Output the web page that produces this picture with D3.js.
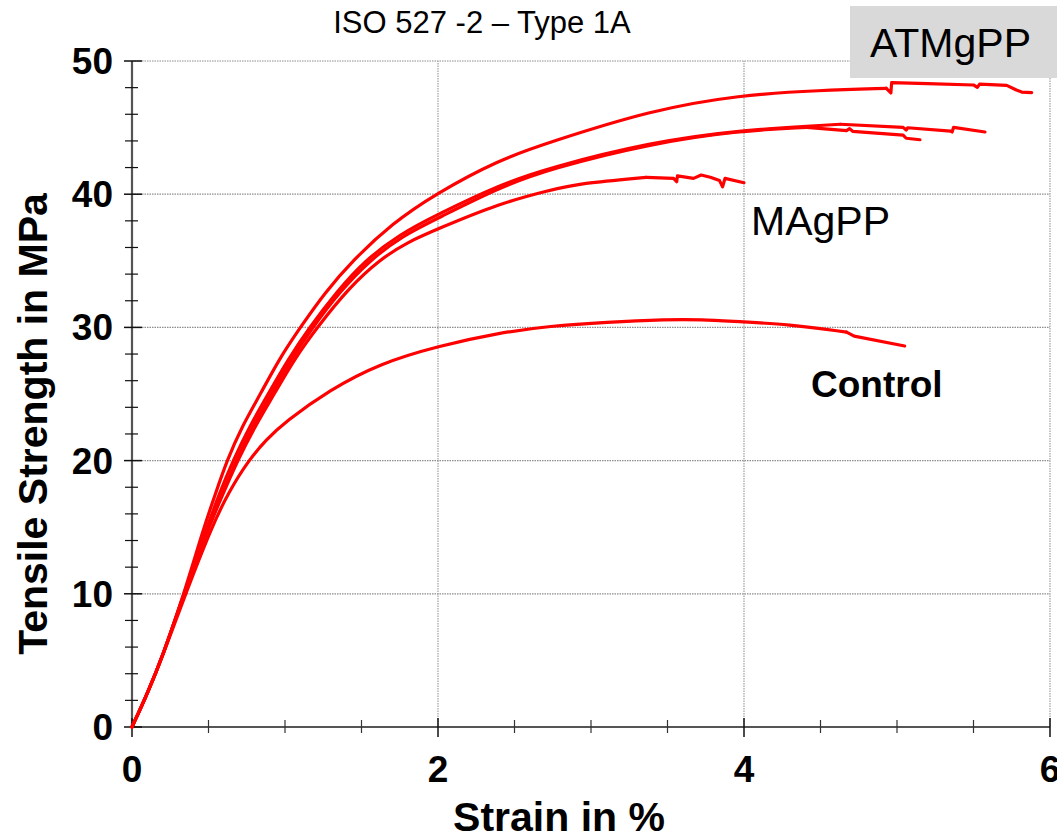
<!DOCTYPE html>
<html>
<head>
<meta charset="utf-8">
<script src="https://cdn.jsdelivr.net/npm/d3@7"></script>
<style>
  html, body { margin: 0; padding: 0; background: #fff; }
  svg { display: block; }
  text { font-family: "Liberation Sans", Arial, sans-serif; }
</style>
</head>
<body>
<svg id="chart" width="1057" height="839"></svg>
<script>
// ---- data (strain in %, stress in MPa) ----
const atmgpp1Strain = [0,0.1,0.2,0.34,0.47,0.545,0.62,0.72,0.84,0.96,1.1,1.26,1.44,1.7,1.98,2.4,2.73,3.39,3.97,4.5,4.93,4.96,4.965,5.2,5.5,5.525,5.54,5.717,5.78,5.815,5.88];
const atmgpp1Stress = [0,2.5,5.3,10,15,17.5,20,22.6,25,27.6,30,32.6,35,37.8,40,42.6,43.9,46.3,47.45,47.8,47.95,47.6,48.37,48.3,48.2,48.02,48.27,48.17,47.82,47.67,47.62];

const atmgpp2Strain = [0,0.1,0.2,0.34,0.49,0.57,0.66,0.77,0.89,1.02,1.16,1.34,1.52,1.75,2.0,2.4,2.73,3.39,3.97,4.63,5.04,5.06,5.07,5.35,5.36,5.37,5.575];
const atmgpp2Stress = [0,2.5,5.3,10,15,17.5,20,22.6,25,27.6,30,32.7,35,37.0,38.5,40.7,42.0,43.9,44.82,45.25,45.02,44.82,44.99,44.74,44.67,45.02,44.67];

const atmgpp3Strain = [0,0.1,0.2,0.34,0.5,0.59,0.68,0.79,0.91,1.04,1.18,1.36,1.55,1.77,2.0,2.4,2.73,3.39,3.97,4.41,4.67,4.69,4.71,5.04,5.06,5.15];
const atmgpp3Stress = [0,2.5,5.3,10,15,17.5,20,22.6,25,27.6,30,32.7,35,36.9,38.2,40.5,41.9,43.8,44.77,45.02,44.77,44.92,44.72,44.44,44.2,44.09];

const magppStrain = [0,0.1,0.2,0.34,0.5,0.595,0.69,0.805,0.93,1.06,1.21,1.42,1.62,1.8,2.0,2.4,2.73,2.93,3.36,3.54,3.56,3.565,3.67,3.72,3.78,3.84,3.86,3.876,4.0];
const magppStress = [0,2.5,5.3,10,15,17.5,20,22.6,25,27.6,30,33,35.1,36.4,37.4,39.3,40.3,40.82,41.27,41.19,40.94,41.37,41.19,41.44,41.27,41.02,40.56,41.19,40.86];

const controlStrain = [0,0.1,0.2,0.35,0.52,0.63,0.76,0.88,1.0,1.29,1.62,2.0,2.4,2.73,3.1,3.5,3.71,4.0,4.28,4.67,4.72,5.05];
const controlStress = [0,2.5,5.3,10,15,17.6,20,21.6,22.9,25.3,27.3,28.6,29.6,30.1,30.4,30.6,30.6,30.4,30.25,29.65,29.35,28.6];

// strain where the smooth part of each curve ends and the jagged tail begins
const tailStart = [4.93, 4.63, 4.41, 3.36, 4.67];

const xMajorTicks = [0,2,4,6];
const xMinorTicks = [0.5,1,1.5,2.5,3,3.5,4.5,5,5.5];
const yMajorTicks = [0,10,20,30,40,50];
const yMinorTicks = [2,4,6,8,12,14,16,18,22,24,26,28,32,34,36,38,42,44,46,48];

const titleText = "ISO 527 -2 \u2013 Type 1A";
const xTitle = "Strain in %";
const yTitle = "Tensile Strength in MPa";
const labels = ["ATMgPP", "MAgPP", "Control"];

// ---- drawing ----
const svg = d3.select("#chart");
const x = d3.scaleLinear().domain([0, 6]).range([132, 1050]);
const y = d3.scaleLinear().domain([0, 50]).range([727, 61]);

const grid = svg.append("g");
grid.selectAll("line.h").data(yMajorTicks.filter(d => d > 0)).enter().append("line")
  .attr("x1", x(0)).attr("x2", x(6))
  .attr("y1", d => y(d)).attr("y2", d => y(d))
  .attr("stroke", "#8c8c8c").attr("stroke-width", 1.2).attr("stroke-dasharray", "1.5,1");
grid.selectAll("line.v").data(xMajorTicks.filter(d => d > 0)).enter().append("line")
  .attr("x1", d => x(d)).attr("x2", d => x(d))
  .attr("y1", y(0)).attr("y2", y(50))
  .attr("stroke", "#a0a0a0").attr("stroke-width", 1.2).attr("stroke-dasharray", "1.5,1");

// axes lines
svg.append("line").attr("x1", x(0)).attr("x2", x(6)).attr("y1", y(0)).attr("y2", y(0))
  .attr("stroke", "#555").attr("stroke-width", 2.2);
svg.append("line").attr("x1", x(0)).attr("x2", x(0)).attr("y1", y(0)).attr("y2", y(50))
  .attr("stroke", "#555").attr("stroke-width", 2.2);

// ticks
svg.selectAll("line.xmaj").data(xMajorTicks).enter().append("line")
  .attr("x1", d => x(d)).attr("x2", d => x(d)).attr("y1", y(0) - 9).attr("y2", y(0) + 10)
  .attr("stroke", "#111").attr("stroke-width", 1.5);
svg.selectAll("line.xmin").data(xMinorTicks).enter().append("line")
  .attr("x1", d => x(d)).attr("x2", d => x(d)).attr("y1", y(0) - 7).attr("y2", y(0) + 6)
  .attr("stroke", "#333").attr("stroke-width", 1.2);
svg.selectAll("line.ymaj").data(yMajorTicks).enter().append("line")
  .attr("x1", x(0) - 8).attr("x2", x(0) + 10).attr("y1", d => y(d)).attr("y2", d => y(d))
  .attr("stroke", "#111").attr("stroke-width", 1.5);
svg.selectAll("line.ymin").data(yMinorTicks).enter().append("line")
  .attr("x1", x(0) - 7).attr("x2", x(0) + 6).attr("y1", d => y(d)).attr("y2", d => y(d))
  .attr("stroke", "#111").attr("stroke-width", 1.2);

// tick labels
svg.selectAll("text.xl").data(xMajorTicks).enter().append("text")
  .attr("x", d => x(d)).attr("y", 782).attr("text-anchor", "middle")
  .attr("font-size", 37).attr("font-weight", "bold").text(d => d);
svg.selectAll("text.yl").data(yMajorTicks).enter().append("text")
  .attr("x", 113).attr("y", d => y(d) + 13).attr("text-anchor", "end")
  .attr("font-size", 37).attr("font-weight", "bold").text(d => d);

// axis titles
svg.append("text").attr("x", 559).attr("y", 831).attr("text-anchor", "middle")
  .attr("font-size", 41).attr("font-weight", "bold").text(xTitle);
svg.append("text").attr("transform", "translate(47,424) rotate(-90)").attr("text-anchor", "middle")
  .attr("font-size", 41).attr("font-weight", "bold").text(yTitle);

// title
svg.append("text").attr("x", 482).attr("y", 33).attr("text-anchor", "middle")
  .attr("font-size", 31).text(titleText);

// curves
const series = [
  [atmgpp1Strain, atmgpp1Stress],
  [atmgpp2Strain, atmgpp2Stress],
  [atmgpp3Strain, atmgpp3Stress],
  [magppStrain, magppStress],
  [controlStrain, controlStress]
];
const smoothLine = d3.line().x(d => x(d[0])).y(d => y(d[1])).curve(d3.curveBasis);
const tailLine = d3.line().x(d => x(d[0])).y(d => y(d[1])).curve(d3.curveLinear);
const cg = svg.append("g");
series.forEach((s, k) => {
  const pts = s[0].map((v, i) => [v, s[1][i]]);
  const head = pts.filter(p => p[0] <= tailStart[k]);
  const tail = pts.filter(p => p[0] >= tailStart[k]);
  [smoothLine(head), tailLine(tail)].forEach(d => {
    cg.append("path").attr("d", d)
      .attr("fill", "none").attr("stroke", "#ff0000").attr("stroke-width", 3.2)
      .attr("stroke-linejoin", "round").attr("stroke-linecap", "round");
  });
});

// annotations
svg.append("rect").attr("x", 850).attr("y", 6).attr("width", 210).attr("height", 72).attr("fill", "#d9d9d9");
svg.append("text").attr("x", 870).attr("y", 57).attr("font-size", 41).text(labels[0]);
svg.append("text").attr("x", 751).attr("y", 235).attr("font-size", 41).text(labels[1]);
svg.append("text").attr("x", 811).attr("y", 397).attr("font-size", 37).attr("font-weight", "bold").text(labels[2]);
</script>
</body>
</html>
